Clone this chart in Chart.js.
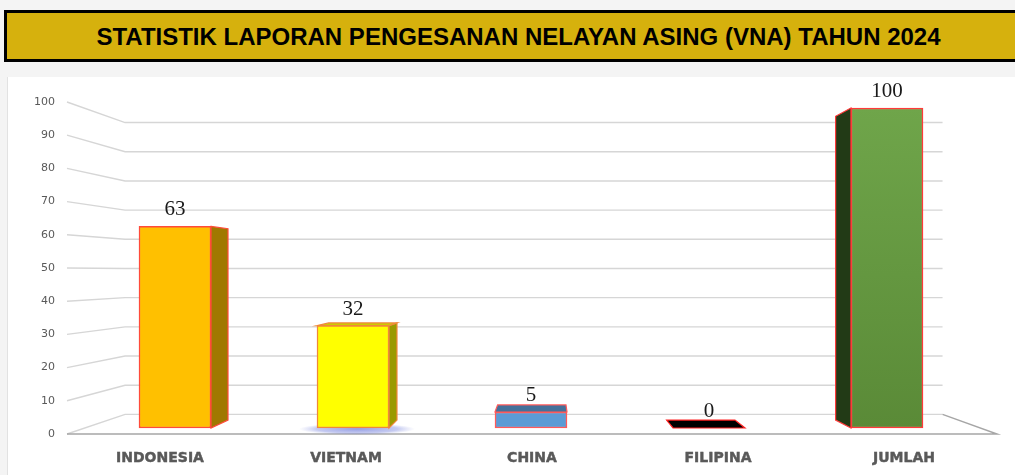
<!DOCTYPE html>
<html>
<head>
<meta charset="utf-8">
<script src="https://cdn.jsdelivr.net/npm/chart.js@4.4.1/dist/chart.umd.min.js"></script>
<style>
  html, body { margin:0; padding:0; width:1015px; height:475px; overflow:hidden; background:#f4f4f4; }
  #chartCanvas { position:absolute; left:0; top:0; }
  #banner {
    position:absolute; left:4px; top:10px; width:1040px; height:46px;
    border:3px solid #000; background:#D6B10D; box-sizing:content-box; z-index:2;
    font:bold 24px "Liberation Sans", Arial, sans-serif; color:#000; line-height:47px;
  }
  #banner span { position:absolute; left:0; width:1023px; text-align:center; white-space:nowrap; }
</style>
</head>
<body>
<div id="banner"><span>STATISTIK LAPORAN PENGESANAN NELAYAN ASING (VNA) TAHUN 2024</span></div>
<canvas id="chartCanvas" width="1015" height="475"></canvas>
<script>
// ---- data ----
const categories = ['INDONESIA', 'VIETNAM', 'CHINA', 'FILIPINA', 'JUMLAH'];
const values = [63, 32, 5, 0, 100];
const yTickValues = [0, 10, 20, 30, 40, 50, 60, 70, 80, 90, 100];

// ---- styles ----
const frontColors = ['#FFC000', '#FFFF00', '#5B9BD5', '#000000', '#66993F'];
const frontGradients = [null, null, null, null, ['#6FA54A', '#5A8A37']];
const sideColors = ['#A07800', '#9A9A00', '#41719C', '#000000', '#223A16'];
const topColors = ['#C99700', '#CCCC00', '#44709A', '#000000', '#4E7A30'];
const borderColors = ['#FF4B3A', '#F0883A', '#FF5A5A', '#FF2020', '#FF3A3A'];
const shadowColors = [null, 'rgba(80,95,210,0.6)', null, null, null];

// perspective parameters (view settings)
const VP = { x: 547, y: 272 };
const DEPTH_BAR = 0.0506;
const DEPTH_WALL = 0.121;
function proj(px, py, d) { return { x: px + (VP.x - px) * d, y: py + (VP.y - py) * d }; }

const backgroundPlugin = {
  id: 'bgPanel',
  beforeDraw(chart) {
    const ctx = chart.ctx;
    ctx.save();
    ctx.fillStyle = '#f4f4f4';
    ctx.fillRect(0, 0, chart.width, chart.height);
    ctx.fillStyle = '#ffffff';
    ctx.fillRect(7, 77, chart.width - 7, chart.height - 77);
    ctx.strokeStyle = '#e2e2e2';
    ctx.lineWidth = 1;
    ctx.beginPath(); ctx.moveTo(7.5, 77); ctx.lineTo(7.5, chart.height); ctx.stroke();
    ctx.restore();
  }
};

const gridPlugin = {
  id: 'grid3d',
  beforeDatasetsDraw(chart) {
    const ctx = chart.ctx;
    const xs = chart.scales.x, ys = chart.scales.y;
    const L = xs.left, R = xs.right;
    ctx.save();
    ctx.lineWidth = 1.4;
    ctx.strokeStyle = '#D6D6D6';
    ys.ticks.forEach(t => {
      const yf = ys.getPixelForValue(t.value);
      const bl = proj(L, yf, DEPTH_WALL), br = proj(R, yf, DEPTH_WALL);
      ctx.beginPath();
      ctx.moveTo(L, yf); ctx.lineTo(bl.x, bl.y); ctx.lineTo(br.x, br.y);
      ctx.stroke();
    });
    // floor
    const y0 = ys.getPixelForValue(0);
    const br0 = proj(R, y0, DEPTH_WALL);
    ctx.strokeStyle = '#A6A6A6';
    ctx.lineWidth = 1.5;
    ctx.beginPath();
    ctx.moveTo(L, y0); ctx.lineTo(R, y0); ctx.lineTo(br0.x, br0.y);
    ctx.stroke();

    // 3D bar faces
    const meta = chart.getDatasetMeta(0);
    meta.data.forEach((el, i) => {
      const p = el.getProps(['x', 'y', 'base', 'width'], true);
      const left = p.x - p.width / 2, right = p.x + p.width / 2;
      const top = Math.min(p.y, p.base), bottom = Math.max(p.y, p.base);
      // shadow
      if (shadowColors[i]) {
        const cx = p.x + 4, cy = bottom + 1;
        const g = ctx.createRadialGradient(cx, cy, 0, cx, cy, 58);
        g.addColorStop(0, shadowColors[i]);
        g.addColorStop(0.7, 'rgba(90,105,215,0.35)');
        g.addColorStop(1, 'rgba(120,130,220,0)');
        ctx.save();
        ctx.translate(cx, cy); ctx.scale(1, 0.1); ctx.translate(-cx, -cy);
        ctx.fillStyle = g;
        ctx.beginPath(); ctx.arc(cx, cy, 58, 0, Math.PI * 2); ctx.fill();
        ctx.restore();
      }
      ctx.lineWidth = 1.2;
      ctx.strokeStyle = borderColors[i];
      const bTL = proj(left, top, DEPTH_BAR), bTR = proj(right, top, DEPTH_BAR);
      const bBL = proj(left, bottom, DEPTH_BAR), bBR = proj(right, bottom, DEPTH_BAR);
      if (right < VP.x && bottom > top) {
        ctx.fillStyle = sideColors[i];
        ctx.beginPath();
        ctx.moveTo(right, top); ctx.lineTo(bTR.x, bTR.y); ctx.lineTo(bBR.x, bBR.y); ctx.lineTo(right, bottom);
        ctx.closePath(); ctx.fill(); ctx.stroke();
      }
      if (left > VP.x && bottom > top) {
        ctx.fillStyle = sideColors[i];
        ctx.beginPath();
        ctx.moveTo(left, top); ctx.lineTo(bTL.x, bTL.y); ctx.lineTo(bBL.x, bBL.y); ctx.lineTo(left, bottom);
        ctx.closePath(); ctx.fill(); ctx.stroke();
      }
      if (top > VP.y) {
        ctx.fillStyle = topColors[i];
        ctx.beginPath();
        ctx.moveTo(left, top); ctx.lineTo(right, top); ctx.lineTo(bTR.x, bTR.y); ctx.lineTo(bTL.x, bTL.y);
        ctx.closePath(); ctx.fill(); ctx.stroke();
      }
    });
    ctx.restore();
  },
  afterDatasetsDraw(chart) {
    const ctx = chart.ctx;
    const meta = chart.getDatasetMeta(0);
    ctx.save();
    ctx.font = '21px "Liberation Serif", "Times New Roman", serif';
    ctx.fillStyle = '#1a1a1a';
    ctx.textAlign = 'center';
    ctx.textBaseline = 'alphabetic';
    meta.data.forEach((el, i) => {
      const p = el.getProps(['x', 'y', 'base'], true);
      const top = Math.min(p.y, p.base);
      ctx.fillText(String(values[i]), p.x, top - 11);
    });
    ctx.restore();
  }
};

new Chart(document.getElementById('chartCanvas'), {
  type: 'bar',
  data: {
    labels: categories,
    datasets: [{
      data: values.map((v, i) => ({ x: i, y: v })),
      xAxisID: 'xBar',
      yAxisID: 'yBar',
      barThickness: 72,
      backgroundColor: (c) => {
        const i = c.dataIndex;
        const gr = frontGradients[i];
        if (gr && c.chart.chartArea) {
          const s = c.chart.scales.yBar;
          const g = c.chart.ctx.createLinearGradient(0, s.getPixelForValue(values[i]), 0, s.getPixelForValue(0));
          g.addColorStop(0, gr[0]); g.addColorStop(1, gr[1]);
          return g;
        }
        return frontColors[i];
      },
      borderColor: borderColors,
      borderWidth: 1.5,
      borderSkipped: false
    }]
  },
  options: {
    responsive: false,
    animation: false,
    devicePixelRatio: 1,
    layout: { padding: { left: 0, top: 102, right: 18, bottom: 0 } },
    plugins: { legend: { display: false }, tooltip: { enabled: false }, title: { display: false } },
    scales: {
      x: {
        type: 'category',
        position: 'bottom',
        afterFit: (s) => { s.height = 41; },
        grid: { display: false, drawTicks: false },
        border: { display: false },
        ticks: {
          padding: 16, maxRotation: 0, autoSkip: false, color: '#595959',
          textStrokeColor: '#4a4a4a', textStrokeWidth: 0.4,
          font: { family: '"DejaVu Sans", sans-serif', size: 14, weight: 'bold' }
        }
      },
      y: {
        type: 'linear',
        position: 'left',
        min: 0, max: 100,
        afterBuildTicks: (s) => { s.ticks = yTickValues.map(v => ({ value: v })); },
        afterFit: (s) => { s.width = 67; },
        grid: { display: false, drawTicks: false },
        border: { display: false },
        ticks: { padding: 12, color: '#595959', font: { family: '"DejaVu Sans", sans-serif', size: 11 } }
      },
      xBar: { type: 'linear', display: false, offset: false, min: -0.6067, max: 4.618, grid: { display: false, offset: false } },
      yBar: { type: 'linear', display: false, min: -1.875, max: 101.875, grid: { display: false } }
    }
  },
  plugins: [backgroundPlugin, gridPlugin]
});
</script>
</body>
</html>
